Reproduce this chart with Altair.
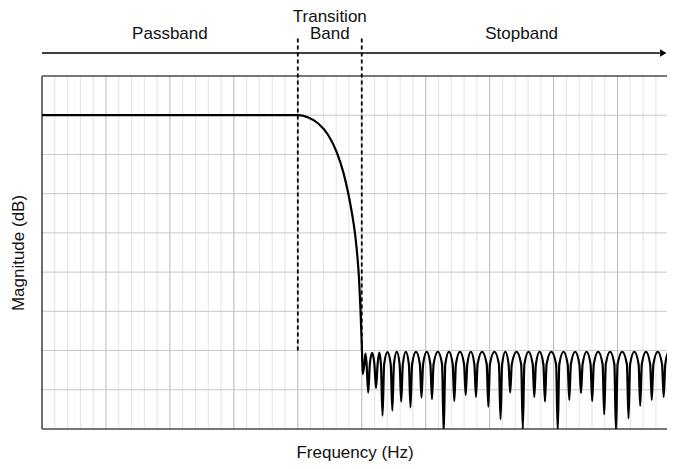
import altair as alt
import pandas as pd

# ---- values (x in grid divisions, y in dB) ----
pass_x = [0.0, 4.0]
pass_db = [-10.0, -10.0]

trans_x = [4.164, 4.320, 4.477, 4.608, 4.711, 4.790, 4.852, 4.894, 4.930, 4.957, 4.977, 4.993, 5.004]
trans_db = [-10.6, -12.1, -15.1, -19.4, -24.5, -30.0, -35.5, -40.1, -45.7, -51.6, -58.4, -65.2, -70.3]

null_x = [5.015, 5.101, 5.223, 5.325, 5.478, 5.617, 5.762, 5.934, 6.098, 6.281,
          6.447, 6.625, 6.786, 6.979, 7.170, 7.321, 7.518, 7.698, 7.865, 8.064,
          8.245, 8.428, 8.603, 8.791, 8.975, 9.171, 9.354, 9.535, 9.721, 9.883]
null_db = [-76.0, -80.7, -79.6, -86.6, -85.3, -83.0, -84.5, -82.0, -82.4, -91.0,
           -82.9, -81.3, -81.8, -84.3, -87.5, -80.7, -90.0, -81.8, -83.0, -90.5,
           -82.6, -80.8, -82.9, -86.3, -90.5, -87.3, -84.1, -82.6, -81.8, -80.9]
peak_db = [-70.8, -70.6, -70.5, -70.4, -70.3, -70.3, -70.3, -70.3, -70.3, -70.3,
           -70.3, -70.3, -70.3, -70.3, -70.3, -70.3, -70.3, -70.3, -70.3, -70.3,
           -70.3, -70.3, -70.3, -70.3, -70.3, -70.3, -70.3, -70.3, -70.3, -70.3]
shoulder_db = -73.5
shoulder_dx = 0.025

band_labels = ["Passband", "Transition", "Band", "Stopband"]
band_label_x = [2.0, 4.5, 4.5, 7.5]
band_label_db = [10.6, 15.0, 10.6, 10.6]

edge_x = [4.0, 5.0]          # transition band edges
edge_db_top = 9.6
edge_db_bottom = -70.0

arrow_db = 5.86
arrow_x_end = 9.66
arrow_head_x = 9.715

x_max = 9.773
major_x = list(range(1, 10))
minor_x = [round(i * 0.2, 1) for i in range(1, 49) if i % 5 != 0]
hgrid_db = [-10, -20, -30, -40, -50, -60, -70, -80]

# ---- build curve table ----
xs, ys = [], []
xs += pass_x
ys += pass_db
xs += trans_x
ys += trans_db
for i, (nx, nd) in enumerate(zip(null_x, null_db)):
    xs.append(nx)
    ys.append(nd)
    nxt = null_x[i + 1] if i + 1 < len(null_x) else nx + 0.18
    xs.append(nx + shoulder_dx)
    ys.append(shoulder_db)
    xs.append((nx + nxt) / 2)
    ys.append(peak_db[i])
    if i + 1 < len(null_x):
        xs.append(nxt - shoulder_dx)
        ys.append(shoulder_db)
curve = pd.DataFrame({"x": xs, "db": ys, "i": range(len(xs))})

FONT = "Liberation Sans"
FS = 17
xs_ = alt.Scale(domain=[0, x_max], nice=False, zero=False)
ys_ = alt.Scale(domain=[-90, 0], nice=False, zero=False)
xaxis = alt.Axis(title="Frequency (Hz)", labels=False, ticks=False, domain=False, grid=False,
                 titleFont=FONT, titleFontSize=FS, titleFontWeight="normal", titleColor="#111",
                 titlePadding=15)
yaxis = alt.Axis(title="Magnitude (dB)", labels=False, ticks=False, domain=False, grid=False,
                 titleFont=FONT, titleFontSize=FS, titleFontWeight="normal", titleColor="#111",
                 titlePadding=15)


def X(f):
    return alt.X(f, type="quantitative", scale=xs_, axis=xaxis)


def Y(f):
    return alt.Y(f, type="quantitative", scale=ys_, axis=yaxis)


minor = alt.Chart(pd.DataFrame({"x": minor_x})).mark_rule(color="#e3e3e3", strokeWidth=1).encode(x=X("x"))
major = alt.Chart(pd.DataFrame({"x": major_x})).mark_rule(color="#b8b8b8", strokeWidth=1).encode(x=X("x"))
hgrid = alt.Chart(pd.DataFrame({"db": hgrid_db})).mark_rule(color="#c8c8c8", strokeWidth=1).encode(y=Y("db"))

border_h = alt.Chart(pd.DataFrame({"db": [0, -90]})).mark_rule(color="#4a4a4a", strokeWidth=1.6).encode(y=Y("db"))
border_v = alt.Chart(pd.DataFrame({"x": [0]})).mark_rule(color="#4a4a4a", strokeWidth=1.6).encode(x=X("x"))

edges = alt.Chart(pd.DataFrame({"x": edge_x, "y1": [edge_db_bottom] * 2, "y2": [edge_db_top] * 2})).mark_rule(
    color="black", strokeWidth=1.8, strokeDash=[4, 3]).encode(x=X("x"), y=Y("y1"), y2="y2")

line = alt.Chart(curve).mark_line(color="black", strokeWidth=2.2, interpolate="monotone", clip=True).encode(
    x=X("x"), y=Y("db"), order="i")

arrow = alt.Chart(pd.DataFrame({"x1": [0.0], "x2": [arrow_x_end], "db": [arrow_db]})).mark_rule(
    color="black", strokeWidth=1.5).encode(x=X("x1"), x2="x2", y=Y("db"))
head = alt.Chart(pd.DataFrame({"x": [arrow_head_x], "db": [arrow_db]})).mark_point(
    shape="triangle-right", filled=True, color="black", size=55, opacity=1).encode(x=X("x"), y=Y("db"))

labels = alt.Chart(pd.DataFrame({"t": band_labels, "x": band_label_x, "db": band_label_db})).mark_text(
    font=FONT, fontSize=FS, color="#111", baseline="middle", align="center").encode(
    x=X("x"), y=Y("db"), text="t")

chart = alt.layer(minor, major, hgrid, border_h, border_v, edges, line, arrow, head, labels).properties(
    width=625, height=353,
    autosize=alt.AutoSizeParams(type="none"),
    padding={"left": 34, "top": 68, "right": 0, "bottom": 32},
).configure_view(stroke=None)

chart.save("out.html", embed_options={"renderer": "svg", "actions": False})
